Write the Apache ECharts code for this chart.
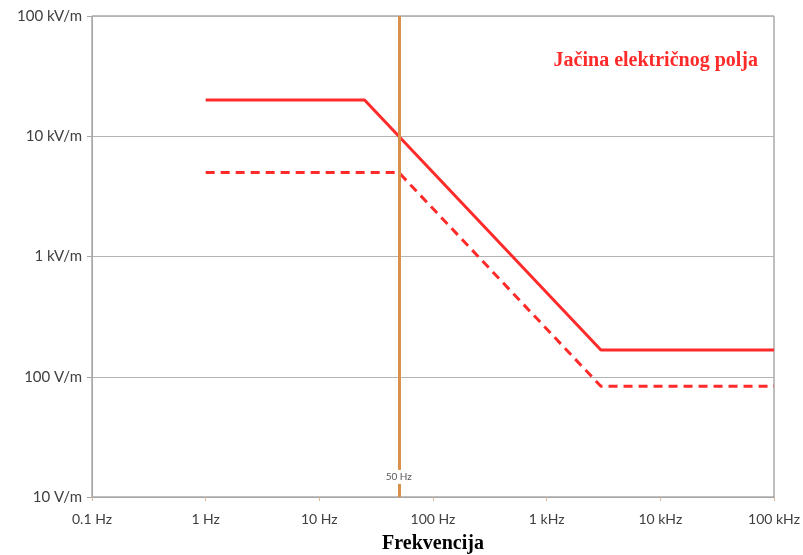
<!DOCTYPE html>
<html>
<head>
<meta charset="utf-8">
<script src="https://cdn.jsdelivr.net/npm/echarts@6/dist/echarts.min.js"></script>
<style>
  html, body { margin: 0; padding: 0; background: #fff; }
  #chart { width: 803px; height: 555px; }
</style>
</head>
<body>
<div id="chart"></div>
<script>
// frequency breakpoints (Hz) and field strength (V/m)
const freq_solid = [1, 25, 3000, 100000];
const field_solid = [20000, 20000, 166.7, 166.7];
const freq_dashed = [1, 50, 3000, 100000];
const field_dashed = [5000, 5000, 83.3, 83.3];

const x_tick_labels = {0.1: '0.1 Hz', 1: '1 Hz', 10: '10 Hz', 100: '100 Hz', 1000: '1 kHz', 10000: '10 kHz', 100000: '100 kHz'};
const y_tick_labels = {10: '10 V/m', 100: '100 V/m', 1000: '1 kV/m', 10000: '10 kV/m', 100000: '100 kV/m'};

const mark_freq = 50;
const mark_label = '50 Hz';
const mark_label_y = 14.7;

function pair(xs, ys) {
    return xs.map((x, i) => [x, ys[i]]);
}

function lookup(table, v) {
    for (let k in table) {
        if (Math.abs(Math.log10(v) - Math.log10(+k)) < 1e-6) return table[k];
    }
    return '';
}

let chart = echarts.init(document.getElementById('chart'));

let option = {
    animation: false,
    backgroundColor: '#fff',
    title: {
        text: 'Jačina električnog polja',
        right: 40,
        top: 46,
        textStyle: {
            color: '#ff2a2a',
            fontFamily: 'Liberation Serif',
            fontWeight: 'bold',
            fontSize: 20
        }
    },
    grid: {
        left: 92, right: 29, top: 16, bottom: 58,
        outerBoundsMode: 'none',
        show: true,
        borderColor: '#808080',
        borderWidth: 1
    },
    xAxis: {
        type: 'log',
        logBase: 10,
        min: 0.1,
        max: 100000,
        name: 'Frekvencija',
        nameLocation: 'middle',
        nameGap: 37,
        nameTextStyle: {
            color: '#000',
            fontFamily: 'Liberation Serif',
            fontWeight: 'bold',
            fontSize: 20
        },
        axisLine: {lineStyle: {color: '#a6a6a6', width: 1}},
        axisTick: {show: true, length: 4, lineStyle: {color: '#d9b89a'}},
        splitLine: {show: false},
        minorTick: {show: false},
        axisLabel: {
            color: '#404040',
            fontFamily: 'Lato',
            fontSize: 14,
            margin: 15,
            formatter: v => lookup(x_tick_labels, v)
        }
    },
    yAxis: {
        type: 'log',
        logBase: 10,
        min: 10,
        max: 100000,
        axisLine: {show: true, lineStyle: {color: '#a6a6a6', width: 1}},
        axisTick: {show: true, length: 5, lineStyle: {color: '#a6a6a6'}},
        splitLine: {show: true, lineStyle: {color: '#b3b3b3', width: 1}},
        axisLabel: {
            color: '#404040',
            fontFamily: 'Lato',
            fontSize: 15,
            margin: 10,
            formatter: v => lookup(y_tick_labels, v)
        }
    },
    series: [
        {
            type: 'line',
            data: pair(freq_dashed, field_dashed),
            symbol: 'none',
            lineStyle: {color: '#ff2a2a', width: 3, type: [9, 6]},
            z: 3
        },
        {
            type: 'line',
            data: pair(freq_solid, field_solid),
            symbol: 'none',
            lineStyle: {color: '#ff2a2a', width: 3},
            z: 3,
            markLine: {
                silent: true,
                symbol: 'none',
                label: {show: false},
                lineStyle: {color: '#d9904a', width: 3, type: 'solid'},
                data: [{xAxis: mark_freq}],
                z: 4
            },
            markPoint: {
                symbol: 'rect',
                symbolSize: [1, 1],
                itemStyle: {color: 'rgba(0,0,0,0)'},
                label: {
                    show: true,
                    formatter: mark_label,
                    color: '#595959',
                    fontFamily: 'Lato',
                    fontSize: 10,
                    backgroundColor: '#fff',
                    padding: [2, 2]
                },
                data: [{coord: [mark_freq, mark_label_y]}],
                z: 5
            }
        }
    ]
};

chart.setOption(option);
</script>
</body>
</html>
